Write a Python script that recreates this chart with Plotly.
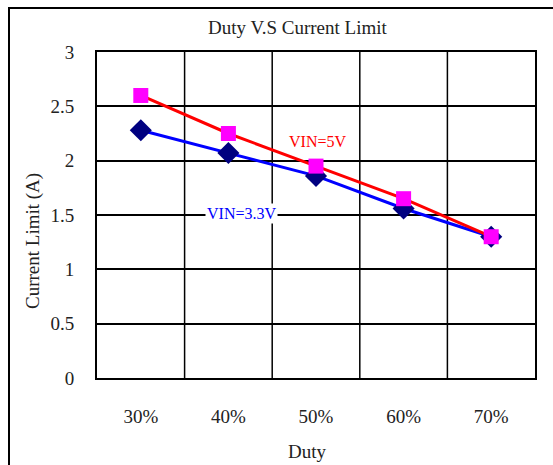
import plotly.graph_objects as go

duty = ["30%", "40%", "50%", "60%", "70%"]
vin33 = [2.28, 2.07, 1.86, 1.56, 1.30]
vin5 = [2.60, 2.25, 1.95, 1.65, 1.30]
yticks = [0, 0.5, 1, 1.5, 2, 2.5, 3]
ytick_text = ["0", "0.5", "1", "1.5", "2", "2.5", "3"]

W, H = 553, 465
L, R, T, B = 97, 18, 52, 87
pw, ph = W - L - R, H - T - B

def px(x):
    return (x - L) / pw

def py(y):
    return (H - B - y) / ph

font = "Liberation Serif, DejaVu Serif, serif"

fig = go.Figure()
fig.add_trace(go.Scatter(
    x=duty, y=vin33, mode="lines+markers", name="VIN=3.3V",
    line=dict(color="#0000FF", width=3),
    marker=dict(symbol="diamond", size=17, color="#000080"),
))
fig.add_trace(go.Scatter(
    x=duty, y=vin5, mode="lines+markers", name="VIN=5V",
    line=dict(color="#FF0000", width=3),
    marker=dict(symbol="square", size=15, color="#FF00FF"),
))

fig.update_layout(
    width=W, height=H,
    margin=dict(l=L, r=R, t=T, b=B, pad=0),
    paper_bgcolor="white", plot_bgcolor="white",
    showlegend=False,
    font=dict(family=font, size=19, color="#222222"),
    xaxis=dict(type="category", range=[-0.5, 4.5], showgrid=False,
               showline=True, linecolor="black", linewidth=2, mirror=True,
               ticks="", ticklabelstandoff=20),
    yaxis=dict(range=[0, 3], tickvals=yticks, ticktext=ytick_text,
               showgrid=True, gridcolor="black", gridwidth=1.5,
               showline=True, linecolor="black", linewidth=2, mirror=True,
               zeroline=False, ticks="", ticklabelstandoff=17),
)

# vertical category separators
for i in range(1, 5):
    fig.add_shape(type="line", xref="x", yref="paper", x0=i - 0.5, x1=i - 0.5,
                  y0=0, y1=1, line=dict(color="black", width=1.5), layer="below")

# outer chart frame
fig.add_shape(type="rect", xref="paper", yref="paper",
              x0=px(9), x1=px(560), y0=py(8), y1=py(475),
              line=dict(color="black", width=2), fillcolor="rgba(0,0,0,0)")

def label(x, y, text, color="#222222", size=19, angle=0, bg=None):
    fig.add_annotation(x=px(x), y=py(y), xref="paper", yref="paper",
                       xanchor="center", yanchor="middle", text=text,
                       showarrow=False, textangle=angle,
                       bgcolor=bg if bg else "rgba(0,0,0,0)",
                       font=dict(size=size, family=font, color=color))

# title and axis titles
label(297, 27, "Duty V.S Current Limit")
label(307, 451, "Duty")
label(33, 241, "Current Limit (A)", angle=-90)

# series labels
label(317, 141, "VIN=5V", color="#FF0000", size=16)
label(241, 213, "VIN=3.3V", color="#0000FF", size=16, bg="white")

fig.write_html("out.html", config={"displayModeBar": False},
               post_script="document.body.style.margin='0px';document.body.style.overflow='hidden';")
